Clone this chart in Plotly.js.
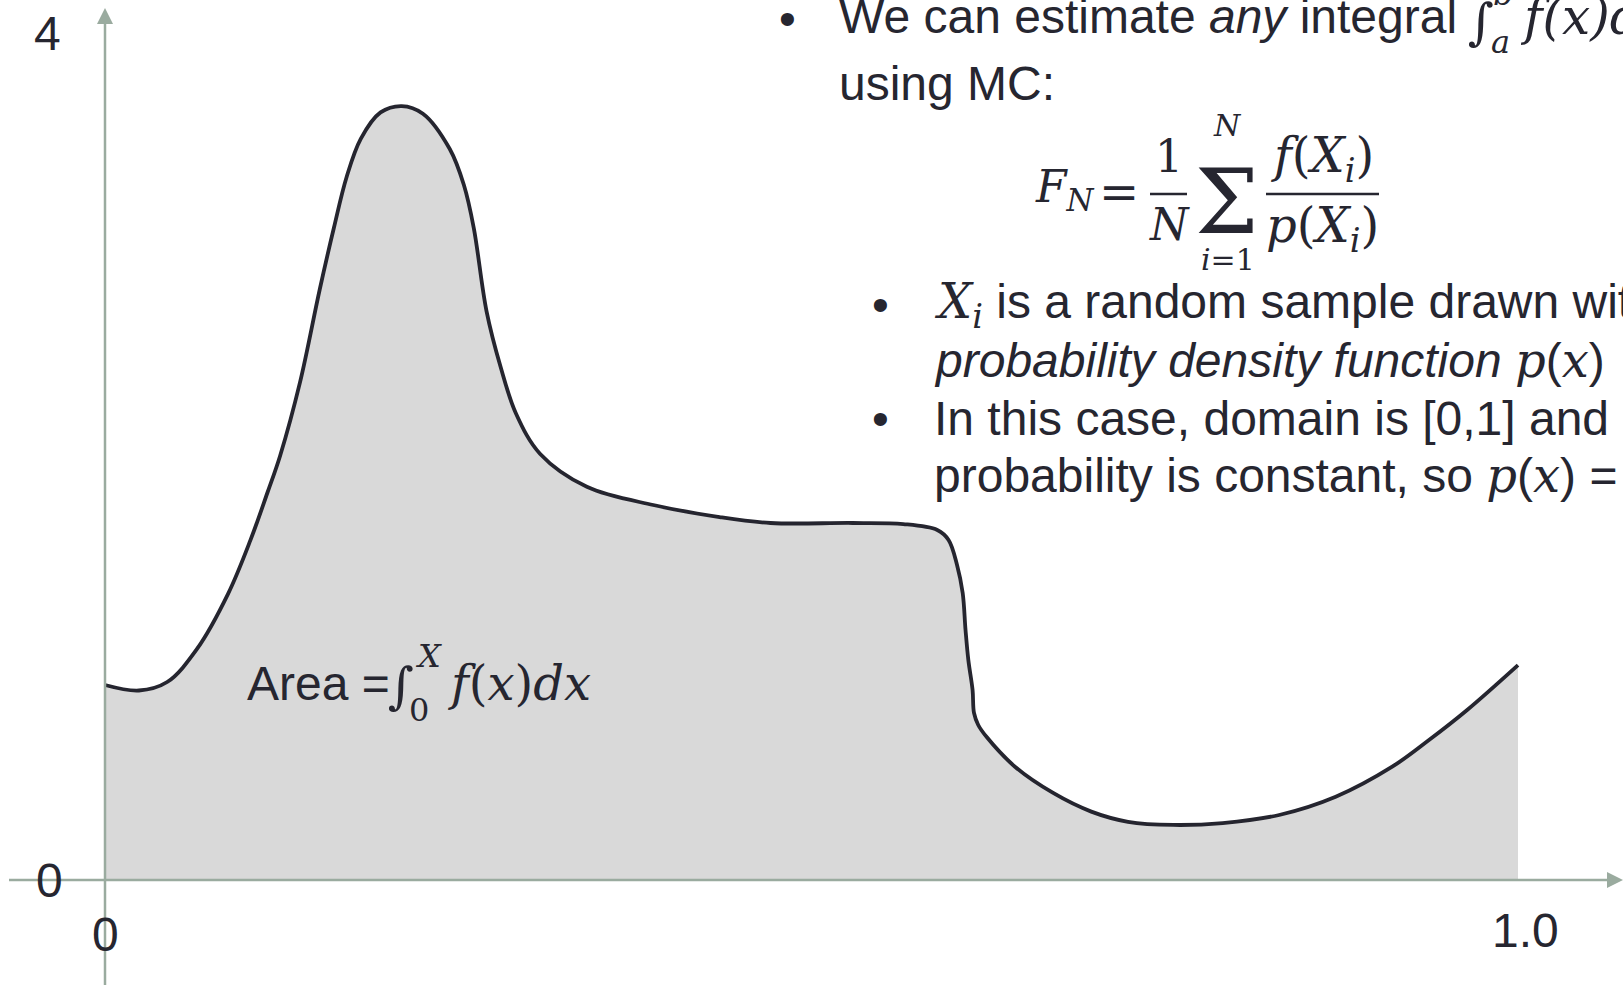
<!DOCTYPE html>
<html>
<head>
<meta charset="utf-8">
<script src="https://cdn.plot.ly/plotly-3.0.1.min.js"></script>
<style>
  html, body { margin: 0; padding: 0; background: #ffffff; overflow: hidden; }
  #chart { width: 1623px; height: 985px; }
</style>
</head>
<body>
<div id="chart"></div>
<script>
// Sample points of f(x) on the domain [0, 1]
const xPoints = [
  0.000, 0.024, 0.044, 0.065, 0.087, 0.103, 0.115, 0.124, 0.138, 0.152,
  0.162, 0.171, 0.181, 0.195, 0.210, 0.225, 0.244, 0.254, 0.261, 0.270,
  0.280, 0.291, 0.308, 0.341, 0.388, 0.435, 0.471, 0.529, 0.565, 0.589,
  0.597, 0.603, 0.607, 0.609, 0.611, 0.614, 0.615, 0.618, 0.624, 0.644,
  0.671, 0.698, 0.724, 0.756, 0.791, 0.831, 0.871, 0.911, 0.937, 0.964,
  1.000
];
const fValues = [
  0.921, 0.895, 0.935, 1.090, 1.350, 1.606, 1.830, 2.005, 2.350, 2.790,
  3.080, 3.320, 3.500, 3.625, 3.655, 3.619, 3.452, 3.282, 3.079, 2.687,
  2.423, 2.201, 2.012, 1.857, 1.771, 1.714, 1.686, 1.686, 1.681, 1.653,
  1.606, 1.488, 1.355, 1.181, 1.039, 0.897, 0.789, 0.732, 0.675, 0.535,
  0.411, 0.323, 0.275, 0.260, 0.269, 0.307, 0.393, 0.535, 0.661, 0.803,
  1.015
];

// Axis tick labels
const yTickValues = [0, 4];
const yTickLabels = ['0', '4'];
const xTickValues = [0, 1.0];
const xTickLabels = ['0', '1.0'];

const W = 1623, H = 985;
const X_RANGE = [-0.07431, 1.07431];
const Y_RANGE = [-0.49587, 4.15584];

const TXT = '#262630';
const AXIS = '#9aab9f';
const SANS = 'Liberation Sans, Arial, sans-serif';
const SERIF = 'DejaVu Serif, Liberation Serif, serif';
const MATH = 'font-family:DejaVu Serif;font-style:italic';

// page pixel -> paper fraction
const px = v => v / W;
const py = v => 1 - v / H;
// data -> page pixel
const xPix = v => (v - X_RANGE[0]) / (X_RANGE[1] - X_RANGE[0]) * W;
const yPix = v => H - (v - Y_RANGE[0]) / (Y_RANGE[1] - Y_RANGE[0]) * H;

function pathPaper(points) {
  return points.map((p, i) => (i ? 'L ' : 'M ') + px(p[0]).toFixed(5) + ' ' + py(p[1]).toFixed(5)).join(' ') + ' Z';
}

function label(text, x, y, opts) {
  opts = opts || {};
  return {
    text: text,
    xref: 'paper', yref: 'paper',
    x: px(x), y: py(y),
    xanchor: opts.anchor || 'left', yanchor: 'middle',
    showarrow: false,
    font: { family: opts.family || SANS, size: opts.size || 48, color: TXT, style: opts.style || 'normal' }
  };
}

const m = s => '<span style="' + MATH + '">' + s + '</span>';

const annotations = [
  // first bullet
  label('•', 787, 18, { anchor: 'center' }),
  label('We can estimate <i>any</i> integral', 837, 17),
  label('∫', 1466, 22, { family: SERIF, size: 50 }),
  label('b', 1491, -6, { family: SERIF, size: 32, style: 'italic' }),
  label('a', 1489, 42, { family: SERIF, size: 32, style: 'italic' }),
  label(m('f(x)dx'), 1518, 17, { family: SERIF, size: 50 }),
  label('using MC:', 837, 83),

  // estimator
  label(m('F<sub>N</sub>'), 1033, 189, { family: SERIF, size: 44 }),
  label('=', 1119, 192, { anchor: 'center', family: SERIF, size: 48 }),
  label('1', 1169, 156, { anchor: 'center', family: SERIF, size: 44 }),
  label(m('N'), 1169, 224, { anchor: 'center', family: SERIF, size: 44 }),
  label('Σ', 1227, 201, { anchor: 'center', family: SERIF, size: 90 }),
  label(m('N'), 1227, 125, { anchor: 'center', family: SERIF, size: 30 }),
  label(m('i') + '=1', 1228, 259, { anchor: 'center', family: SERIF, size: 30 }),
  label(m('f') + '(' + m('X<sub>i</sub>') + ')', 1322, 159, { anchor: 'center', family: SERIF, size: 48 }),
  label(m('p') + '(' + m('X<sub>i</sub>') + ')', 1322, 228, { anchor: 'center', family: SERIF, size: 48 }),

  // sub-bullets
  label('•', 880, 304, { anchor: 'center' }),
  label(m('X<sub>i</sub>') + ' is a random sample drawn with', 932, 304),
  label('<i>probability density function</i> ' + m('p') + '(' + m('x') + ')', 932, 360),
  label('•', 880, 418, { anchor: 'center' }),
  label('In this case, domain is [0,1] and', 932, 418),
  label('probability is constant, so ' + m('p') + '(' + m('x') + ') = 1', 932, 475),

  // area under the curve
  label('Area =', 245, 683),
  label('∫', 386, 686, { family: SERIF, size: 50 }),
  label('X', 413, 656, { family: SERIF, size: 32, style: 'italic' }),
  label('0', 407, 710, { family: SERIF, size: 32 }),
  label(m('f') + '(' + m('x') + ')' + m('dx'), 446, 683, { family: SERIF, size: 48 })
];

// tick labels on both axes
yTickValues.forEach((v, i) => {
  annotations.push({
    text: yTickLabels[i], xref: 'paper', yref: 'y', x: px(v === 0 ? 49 : 47), y: v,
    xanchor: 'center', yanchor: 'middle', showarrow: false,
    font: { family: SANS, size: 48, color: TXT }
  });
});
xTickValues.forEach((v, i) => {
  annotations.push({
    text: xTickLabels[i], xref: 'x', yref: 'paper', x: v, y: py(v === 0 ? 934 : 930),
    xshift: v === 0 ? 0 : 7,
    xanchor: 'center', yanchor: 'middle', showarrow: false,
    font: { family: SANS, size: 48, color: TXT }
  });
});

const x0 = xPix(0), y0 = yPix(0);
const shapes = [
  // horizontal axis with arrowhead
  { type: 'line', xref: 'paper', yref: 'y', x0: px(9), x1: px(1610), y0: 0, y1: 0,
    line: { color: AXIS, width: 2.5 } },
  { type: 'path', xref: 'paper', yref: 'paper',
    path: pathPaper([[1607, y0 - 8], [1623, y0], [1607, y0 + 8]]),
    fillcolor: AXIS, line: { width: 0 } },
  // vertical axis with arrowhead
  { type: 'line', xref: 'x', yref: 'paper', x0: 0, x1: 0, y0: 0, y1: py(22),
    line: { color: AXIS, width: 2.5 } },
  { type: 'path', xref: 'paper', yref: 'paper',
    path: pathPaper([[x0 - 8, 24], [x0, 8], [x0 + 8, 24]]),
    fillcolor: AXIS, line: { width: 0 } },
  // fraction bars of the estimator
  { type: 'line', xref: 'paper', yref: 'paper', x0: px(1150), x1: px(1187), y0: py(194), y1: py(194),
    line: { color: TXT, width: 2.5 } },
  { type: 'line', xref: 'paper', yref: 'paper', x0: px(1266), x1: px(1379), y0: py(194), y1: py(194),
    line: { color: TXT, width: 2.5 } }
];

const trace = {
  type: 'scatter',
  mode: 'lines',
  x: xPoints,
  y: fValues,
  fill: 'tozeroy',
  fillcolor: '#d9d9d9',
  line: { color: '#25252f', width: 3.8, shape: 'spline', smoothing: 1 },
  hoverinfo: 'skip'
};

const layout = {
  width: W,
  height: H,
  margin: { l: 0, r: 0, t: 0, b: 0, pad: 0 },
  paper_bgcolor: '#ffffff',
  plot_bgcolor: '#ffffff',
  showlegend: false,
  xaxis: { range: X_RANGE, visible: false, fixedrange: true },
  yaxis: { range: Y_RANGE, visible: false, fixedrange: true },
  shapes: shapes,
  annotations: annotations
};

Plotly.newPlot('chart', [trace], layout, { staticPlot: true, displayModeBar: false });
</script>
</body>
</html>
